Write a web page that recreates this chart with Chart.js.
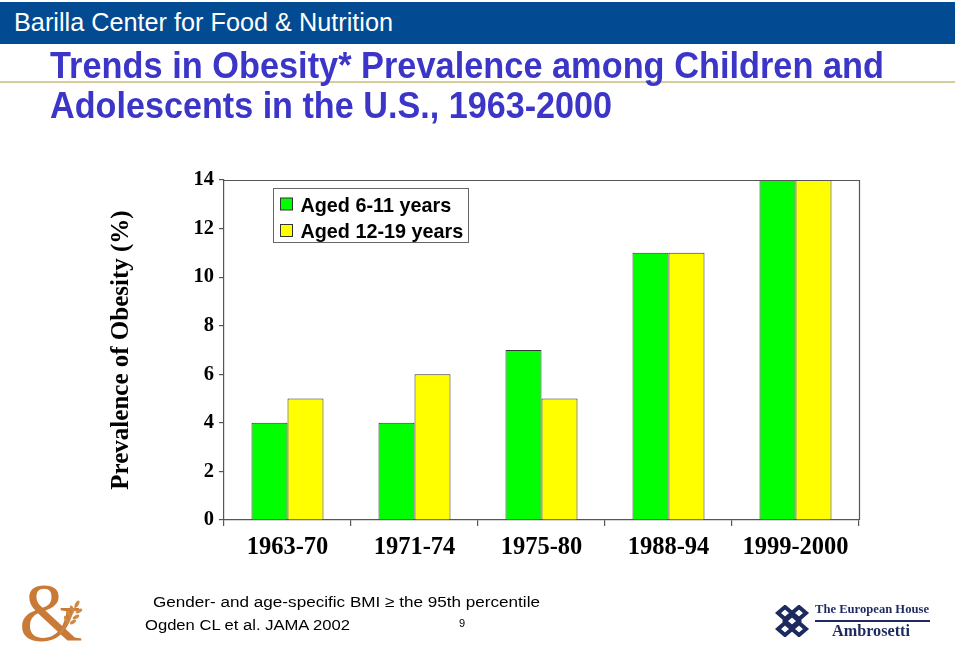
<!DOCTYPE html>
<html>
<head>
<meta charset="utf-8">
<script src="https://cdn.jsdelivr.net/npm/chart.js@4.4.1/dist/chart.umd.min.js"></script>
<style>
  html, body { margin: 0; padding: 0; background: #fff; }
  #wrap { position: relative; width: 960px; height: 650px; overflow: hidden; }
  #c { position: absolute; left: 0; top: 0; }
  .abs { position: absolute; white-space: nowrap; transform-origin: 0 0; }
  #hdr { position: absolute; left: 0; top: 2px; width: 955px; height: 42px; background: #024a91; }
  #hdrtxt { left: 14px; top: 8px; color: #fff; font: 25px "Liberation Sans", Arial, sans-serif; line-height: 28px; }
  .ttl { left: 50px; color: #3b36c8; font: bold 37px "Liberation Sans", Arial, sans-serif; line-height: 40px; }
  #rule { position: absolute; left: 0; top: 81px; width: 955px; height: 2px; background: #d9cc9c; }
  .foot { color: #000; font: 15.5px "Liberation Sans", Arial, sans-serif; line-height: 18px; }
  #amp { left: 19px; top: 572px; color: #c97a37; font: 82px "Liberation Serif", serif; line-height: 82px; }
  .amb { color: #1d2a5e; font-family: "Liberation Serif", serif; font-weight: bold; }
</style>
</head>
<body>
<div id="wrap">
  <canvas id="c" width="960" height="650"></canvas>
  <div id="hdr"></div>
  <div id="hdrtxt" class="abs" data-w="379">Barilla Center for Food &amp; Nutrition</div>
  <div id="rule"></div>
  <div class="abs ttl" style="top:46px" data-w="834">Trends in Obesity* Prevalence among Children and</div>
  <div class="abs ttl" style="top:86px" data-w="562">Adolescents in the U.S., 1963-2000</div>

  <div class="abs foot" style="left:153px; top:593px" data-w="387">Gender- and age-specific BMI ≥ the 95th percentile</div>
  <div class="abs foot" style="left:145px; top:616px" data-w="205">Ogden CL et al. JAMA 2002</div>
  <div class="abs" style="left:459px; top:617px; font: 11px 'Liberation Sans', Arial, sans-serif;">9</div>

  <div id="amp" class="abs">&amp;</div>
  <svg style="position:absolute; left:58px; top:600px" width="30" height="36" viewBox="0 0 30 36">
    <g fill="#d08a45">
      <path d="M2 34 Q10 22 18 6" stroke="#d08a45" stroke-width="1.6" fill="none"/>
      <ellipse cx="19" cy="4" rx="1.8" ry="3.8" transform="rotate(30 19 4)"/>
      <ellipse cx="14" cy="9" rx="1.7" ry="3.6" transform="rotate(-20 14 9)"/>
      <ellipse cx="21" cy="11" rx="1.7" ry="3.6" transform="rotate(60 21 11)"/>
      <ellipse cx="11" cy="14" rx="1.7" ry="3.6" transform="rotate(-20 11 14)"/>
      <ellipse cx="18" cy="17" rx="1.7" ry="3.6" transform="rotate(60 18 17)"/>
      <ellipse cx="8" cy="19" rx="1.7" ry="3.4" transform="rotate(-20 8 19)"/>
      <ellipse cx="15" cy="22" rx="1.7" ry="3.4" transform="rotate(60 15 22)"/>
    </g>
  </svg>

  <svg style="position:absolute; left:775px; top:605px" width="40" height="32" viewBox="0 0 40 32">
    <g fill="none" stroke="#1d2a5e" stroke-width="4">
      <path d="M3 8 L10 2 L17 8 L10 14 Z"/>
      <path d="M17 8 L24 2 L31 8 L24 14 Z"/>
      <path d="M10 16 L17 10 L24 16 L17 22 Z"/>
      <path d="M3 24 L10 18 L17 24 L10 30 Z"/>
      <path d="M17 24 L24 18 L31 24 L24 30 Z"/>
    </g>
  </svg>
  <div class="abs amb" style="left:815px; top:601px; font-size:13.5px; line-height:16px" data-w="114">The European House</div>
  <div style="position:absolute; left:815px; top:620px; width:115px; height:1.5px; background:#1d2a5e"></div>
  <div class="abs amb" style="left:832px; top:622px; font-size:16px; line-height:18px" data-w="78">Ambrosetti</div>
</div>

<script>
const categories = ['1963-70', '1971-74', '1975-80', '1988-94', '1999-2000'];
const aged6to11 = [4, 4, 7, 11, 14];
const aged12to19 = [5, 6, 5, 11, 14];
const seriesNames = ['Aged 6-11 years', 'Aged 12-19 years'];
const yMin = 0, yMax = 14, yStep = 2;
const yTitle = 'Prevalence of Obesity (%)';

const frameAndLegend = {
  id: 'frameAndLegend',
  afterDatasetsDraw(chart) {
    const ctx = chart.ctx, a = chart.chartArea;
    ctx.save();
    ctx.strokeStyle = '#555';
    ctx.lineWidth = 1.2;
    ctx.beginPath();
    ctx.moveTo(a.left, a.top + 0.5);
    ctx.lineTo(a.right + 0.5, a.top + 0.5);
    ctx.lineTo(a.right + 0.5, a.bottom);
    ctx.stroke();

    // legend box
    const lx = a.left + 49.5, ly = a.top + 8.5, lw = 195, lh = 54;
    ctx.fillStyle = '#fff';
    ctx.fillRect(lx, ly, lw, lh);
    ctx.strokeStyle = '#666';
    ctx.lineWidth = 1;
    ctx.strokeRect(lx, ly, lw, lh);
    ctx.font = 'bold 19.8px "Liberation Sans", Arial, sans-serif';
    ctx.textBaseline = 'alphabetic';
    chart.data.datasets.forEach((ds, i) => {
      const sy = ly + 9.5 + i * 26.5;
      ctx.fillStyle = ds.backgroundColor;
      ctx.fillRect(lx + 7, sy, 12, 12);
      ctx.strokeStyle = '#333';
      ctx.strokeRect(lx + 7, sy, 12, 12);
      ctx.fillStyle = '#000';
      ctx.fillText(ds.label, lx + 27, sy + 13.5);
    });
    ctx.restore();
  }
};

new Chart(document.getElementById('c'), {
  type: 'bar',
  data: {
    labels: categories,
    datasets: [
      { label: seriesNames[0], data: aged6to11, backgroundColor: '#00ff00', borderColor: '#333', borderWidth: 1 },
      { label: seriesNames[1], data: aged12to19, backgroundColor: '#ffff00', borderColor: '#333', borderWidth: 1 }
    ]
  },
  options: {
    responsive: false,
    animation: false,
    events: [],
    layout: { padding: { left: 100, top: 180, right: 101, bottom: 80 } },
    datasets: { bar: { barPercentage: 1, categoryPercentage: 0.567 } },
    plugins: { legend: { display: false }, tooltip: { enabled: false }, title: { display: false } },
    scales: {
      x: {
        grid: { display: true, drawOnChartArea: false, drawTicks: true, tickLength: 6, offset: true, color: '#555', lineWidth: 1.2 },
        border: { display: true, color: '#555', width: 1.2 },
        ticks: { color: '#000', padding: 7, font: { family: '"Liberation Serif", serif', weight: 'bold', size: 24.5 }, maxRotation: 0, autoSkip: false },
        afterFit(s) { s.height = 50; }
      },
      y: {
        min: yMin, max: yMax,
        grid: { display: true, drawOnChartArea: false, drawTicks: true, tickLength: 5, color: '#555', lineWidth: 1.2 },
        border: { display: true, color: '#555', width: 1.2 },
        ticks: { stepSize: yStep, color: '#000', padding: 5, font: { family: '"Liberation Serif", serif', weight: 'bold', size: 20.5 } },
        title: { display: true, text: yTitle, color: '#000', padding: { top: 7, bottom: 0 }, font: { family: '"Liberation Serif", serif', weight: 'bold', size: 25 } },
        afterFit(s) { s.width = 124; }
      }
    }
  },
  plugins: [frameAndLegend]
});

function fitTexts() {
  document.querySelectorAll('[data-w]').forEach(el => {
    el.style.transform = 'none';
    const w = el.getBoundingClientRect().width;
    const t = parseFloat(el.dataset.w);
    if (w > 0) el.style.transform = 'scaleX(' + (t / w).toFixed(4) + ')';
  });
}
fitTexts();
if (document.fonts && document.fonts.ready) document.fonts.ready.then(fitTexts);
</script>
</body>
</html>
